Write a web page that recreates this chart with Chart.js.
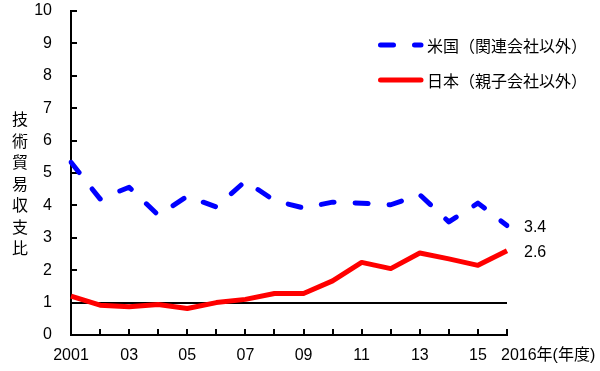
<!DOCTYPE html>
<html>
<head>
<meta charset="utf-8">
<script src="https://cdn.jsdelivr.net/npm/chart.js@4/dist/chart.umd.min.js"></script>
<style>
  body { margin: 0; background: #fff; }
  #wrap { width: 600px; height: 371px; }
</style>
</head>
<body>
<div id="wrap"><canvas id="myChart"></canvas></div>
<script>
//Data
const years = ['2001','2002','2003','2004','2005','2006','2007','2008','2009','2010','2011','2012','2013','2014','2015','2016'];
const xTickLabels = ['2001','','03','','05','','07','','09','','11','','13','','15','2016年(年度)'];
const usRatio = [5.33, 4.2, 4.56, 3.7, 4.28, 3.95, 4.75, 4.15, 3.92, 4.1, 4.07, 4.02, 4.33, 3.49, 4.07, 3.38];
const jpRatio = [1.2, 0.92, 0.87, 0.94, 0.82, 1.0, 1.1, 1.28, 1.28, 1.67, 2.24, 2.05, 2.53, 2.35, 2.15, 2.6];
const endLabels = ['3.4', '2.6'];
const seriesNames = ['米国（関連会社以外）', '日本（親子会社以外）'];
const yTitle = ['技','術','貿','易','収','支','比'];
const baseLine = 1;

const numFont = '16px "Liberation Sans", Arial, sans-serif';
const jpFont = '16px "Noto Sans CJK JP", sans-serif';

let ctx = document.getElementById('myChart').getContext('2d');

//extra drawing: reference line, end labels, legend, y title, last x label
const extras = {
  id: 'extras',
  beforeDatasetsDraw(chart) {
    const c = chart.ctx;
    const x = chart.scales.x, y = chart.scales.y;
    const yy = Math.round(y.getPixelForValue(baseLine));
    c.save();
    c.strokeStyle = '#000';
    c.lineWidth = 2;
    c.beginPath();
    c.moveTo(x.getPixelForValue(0), yy);
    c.lineTo(x.getPixelForValue(years.length - 1), yy);
    c.stroke();
    c.restore();
  },
  afterDraw(chart) {
    const c = chart.ctx;
    const x = chart.scales.x, y = chart.scales.y;
    c.save();
    c.fillStyle = '#000';

    // values at the end of each line
    c.font = numFont;
    c.textBaseline = 'middle';
    c.textAlign = 'left';
    chart.data.datasets.forEach((ds, i) => {
      const last = ds.data.length - 1;
      c.fillText(endLabels[i], x.getPixelForValue(last) + 17, y.getPixelForValue(ds.data[last]) + 2);
    });

    // last x label, left aligned near its tick
    c.font = '16px "Liberation Sans", "Noto Sans CJK JP", sans-serif';
    c.fillText(xTickLabels[xTickLabels.length - 1], x.getPixelForValue(years.length - 1) - 6, 356);

    // legend
    chart.data.datasets.forEach((ds, i) => {
      const ly = 45 + i * 35;
      c.strokeStyle = ds.borderColor;
      c.lineWidth = 5;
      c.lineCap = 'round';
      c.setLineDash(ds.borderDash || []);
      c.beginPath();
      c.moveTo(380.5, ly);
      c.lineTo(421, ly);
      c.stroke();
      c.setLineDash([]);
      c.font = jpFont;
      c.fillText(ds.label, 427, ly + 1);
    });

    // vertical y title
    c.font = jpFont;
    c.textAlign = 'center';
    yTitle.forEach((ch, i) => {
      c.fillText(ch, 20, 119 + i * 21.5);
    });
    c.restore();
  }
};

let ratioChart = new Chart(ctx, {
  type: 'line',
  data: {
    labels: years,
    datasets: [{
      label: seriesNames[0],
      data: usRatio,
      borderColor: '#0000ff',
      borderWidth: 5,
      borderDash: [13, 21],
      borderCapStyle: 'round',
      borderJoinStyle: 'round',
      pointRadius: 0,
      tension: 0
    }, {
      label: seriesNames[1],
      data: jpRatio,
      borderColor: '#ff0000',
      borderWidth: 5,
      borderJoinStyle: 'round',
      pointRadius: 0,
      tension: 0
    }]
  },
  options: {
    responsive: true,
    maintainAspectRatio: false,
    animation: false,
    layout: { padding: { left: 0, top: 11, right: 93, bottom: 0 } },
    plugins: {
      legend: { display: false },
      tooltip: { enabled: false }
    },
    scales: {
      x: {
        offset: false,
        afterFit: (s) => { s.height = 36; },
        border: { color: '#000', width: 2 },
        grid: { drawOnChartArea: false, color: '#000', lineWidth: 2, tickLength: -6 },
        ticks: {
          autoSkip: false,
          maxRotation: 0,
          color: '#000',
          font: { family: '"Liberation Sans", Arial, sans-serif', size: 16 },
          padding: 17,
          callback: (v, i) => (i === xTickLabels.length - 1 ? '' : xTickLabels[i])
        }
      },
      y: {
        min: 0,
        max: 10,
        afterFit: (s) => { s.width = 71; s.paddingTop = 8; s.paddingBottom = 8; },
        border: { color: '#000', width: 2 },
        grid: { drawOnChartArea: false, color: '#000', lineWidth: 2, tickLength: -6 },
        ticks: {
          stepSize: 1,
          color: '#000',
          font: { family: '"Liberation Sans", Arial, sans-serif', size: 16 },
          padding: 25
        }
      }
    }
  },
  plugins: [extras]
});
</script>
</body>
</html>
